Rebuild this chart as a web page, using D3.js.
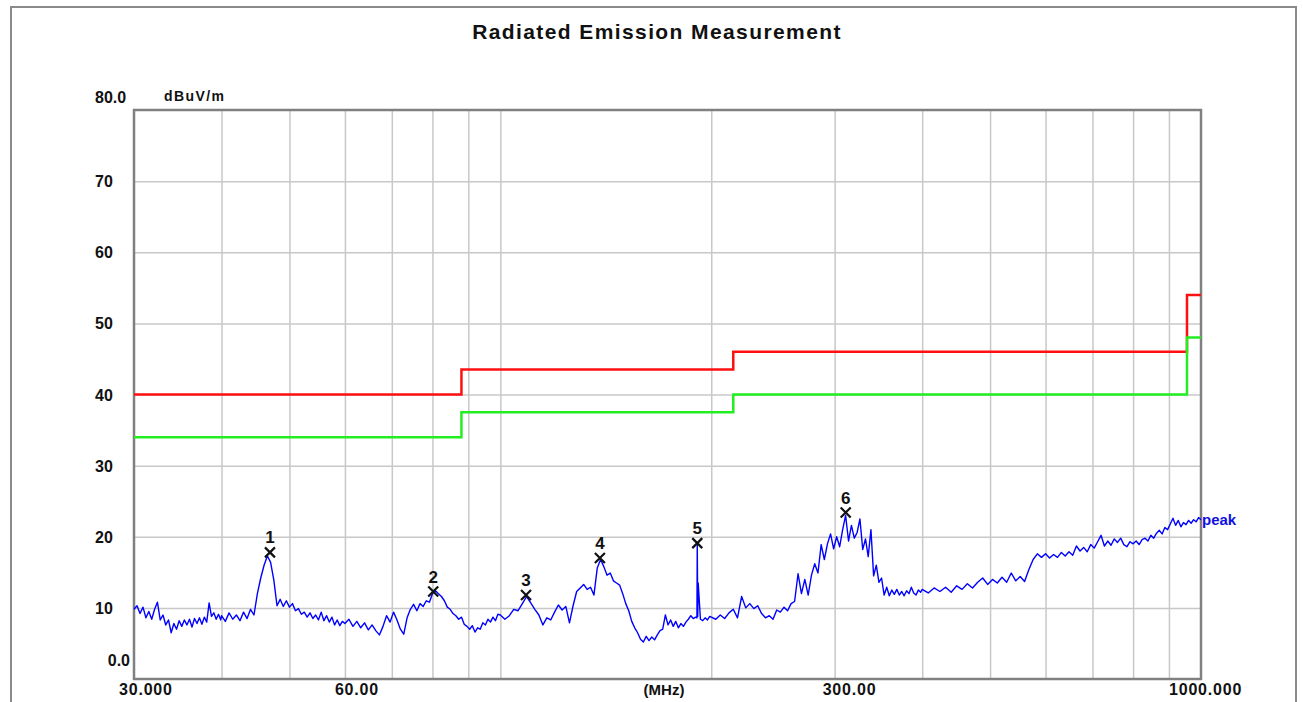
<!DOCTYPE html>
<html><head><meta charset="utf-8">
<script src="https://cdn.jsdelivr.net/npm/d3@7"></script>
<style>
body{margin:0;background:#fff;}
svg{display:block;}
text{font-family:"Liberation Sans",Arial,sans-serif;font-weight:bold;}
</style>
</head><body>
<svg id="c" width="1303" height="702"></svg>
<script>
// ---------- data ----------
const traceFreq = [
  30.0,30.3,30.6,30.9,31.2,31.5,31.8,32.1,32.4,32.7,33.0,33.3,33.6,33.9,34.2,34.5,34.8,35.1,35.4,35.7,
  36.0,36.3,36.6,36.9,37.2,37.5,37.8,38.1,38.4,38.7,39.0,39.3,39.6,39.9,
  40.0,40.5,41.0,41.5,42.0,42.5,43.0,43.5,44.0,44.5,
  45.0,45.5,46.0,46.5,47.0,47.5,48.0,48.5,49.0,49.5,
  50.0,50.5,51.0,51.5,52.0,52.5,53.0,53.5,54.0,54.5,
  55.0,55.5,56.0,56.5,57.0,57.5,58.0,58.5,59.0,59.5,
  60.0,60.8,61.6,62.4,63.2,64.0,64.8,65.6,66.4,67.2,
  68.0,68.8,69.6,70.4,71.2,72.0,72.8,73.6,74.4,75.2,
  76.0,76.8,77.6,78.4,79.2,80.0,80.8,81.6,82.4,83.2,
  84.0,84.8,85.6,86.4,87.2,88.0,88.8,89.6,90.4,91.2,
  92.0,92.8,93.6,94.4,95.2,96.0,96.8,97.6,98.4,99.2,
  100.0,101.5,103.0,104.5,106.0,107.5,109.0,110.5,112.0,113.5,
  115.0,116.5,118.0,119.5,121.0,122.5,124.0,125.5,127.0,128.5,
  130.0,131.5,133.0,134.5,136.0,137.5,139.0,140.5,142.0,143.5,
  145.0,146.5,148.0,149.5,151.0,152.5,154.0,155.5,157.0,158.5,
  160.0,161.5,163.0,164.5,166.0,167.5,169.0,170.5,172.0,173.5,
  175.0,176.5,178.0,179.5,181.0,182.5,184.0,185.5,187.0,188.5,
  190.0,190.8,191.0,191.3,191.6,193.0,194.5,196.0,197.5,199.0,
  200,203,206,209,212,215,218,221,224,227,
  230,233,236,239,242,245,248,251,254,257,
  260,263,266,269,272,275,278,281,284,287,
  290,293,296,299,302,305,308,311,314,317,
  320,323,326,329,332,335,338,341,344,347,
  350,353,356,359,362,365,368,371,374,377,
  380,383,386,389,392,395,398,
  400,408,416,424,432,440,448,456,464,472,
  480,488,496,504,512,520,528,536,544,552,
  560,568,576,584,592,600,608,616,624,632,
  640,648,656,664,672,680,688,696,704,712,
  720,728,736,744,752,760,768,776,784,792,
  800,808,816,824,832,840,848,856,864,872,
  880,888,896,904,912,920,928,936,944,952,
  960,968,976,984,992,1000
];
const traceLevel = [
  9.8,10.3,9.2,10.1,8.6,9.5,8.4,9.8,10.8,8.3,9.0,7.6,8.3,6.5,7.8,7.0,8.2,7.4,8.3,7.6,
  8.4,7.3,8.5,7.8,8.6,7.7,8.7,8.0,10.7,8.8,9.3,8.4,9.1,8.3,
  8.9,8.1,9.3,8.4,9.0,8.2,9.4,8.5,9.8,9.0,
  12.0,14.2,16.0,17.3,16.4,13.9,10.3,11.2,10.2,11.0,
  10.1,10.6,9.6,9.9,9.1,9.4,8.7,9.3,8.5,9.0,
  8.3,9.4,8.2,8.9,8.0,8.7,7.6,8.3,7.5,8.1,
  7.8,8.4,7.4,8.1,7.2,7.9,6.9,7.6,6.8,6.2,
  7.4,8.9,8.0,9.4,8.3,7.0,6.3,8.6,9.8,10.5,
  9.6,10.6,10.2,11.0,10.8,12.0,12.4,12.0,11.6,11.0,
  10.1,9.8,9.2,8.9,8.4,8.7,7.7,7.4,7.0,7.5,
  6.6,7.2,7.0,7.9,7.6,8.4,8.0,8.7,8.2,9.1,
  9.0,8.4,8.9,9.8,9.6,10.6,11.6,10.7,9.8,9.0,
  7.6,8.6,8.3,9.4,10.4,9.7,10.2,7.9,10.3,12.3,
  12.8,13.3,12.6,12.9,11.8,15.6,16.8,15.8,14.6,14.9,
  13.8,13.5,13.2,12.0,10.6,9.6,8.1,7.2,6.5,5.6,
  5.2,6.0,5.4,5.9,5.5,6.2,6.8,7.0,9.0,7.6,
  8.3,7.4,8.1,7.2,7.8,7.4,8.0,8.4,8.9,8.5,
  8.7,8.6,19.0,8.8,13.5,8.4,8.2,8.6,8.3,8.8,
  8.7,8.4,9.0,8.5,9.3,9.8,8.6,11.6,10.0,10.6,
  9.9,10.3,9.2,8.6,8.9,8.4,9.7,9.4,10.1,9.6,
  10.6,10.9,14.8,12.0,14.0,11.8,14.6,16.2,14.9,18.9,
  16.8,19.0,20.4,18.3,20.0,18.6,21.0,23.0,19.4,21.6,
  19.8,20.6,22.5,18.2,19.7,17.2,21.0,14.5,16.0,13.6,
  14.2,11.8,12.9,11.7,12.5,11.9,12.6,11.8,12.3,11.7,
  12.4,12.0,12.9,12.1,11.8,12.5,12.2,
  12.6,12.1,12.8,12.3,12.9,12.2,13.1,12.6,13.4,12.8,
  13.6,14.2,13.3,14.0,13.5,14.3,13.6,14.9,13.8,14.4,
  13.7,15.4,16.8,17.6,17.1,17.6,17.0,17.5,17.1,17.8,
  17.3,17.9,17.4,18.7,18.0,18.5,17.9,18.9,18.4,19.3,
  20.2,18.7,19.4,18.8,19.7,19.2,19.8,18.9,18.6,19.3,
  19.0,19.4,18.9,19.6,19.8,19.4,20.2,19.8,20.5,20.9,
  20.4,21.3,21.0,21.8,22.6,21.6,22.3,21.4,22.0,21.7,
  22.3,21.9,22.4,22.1,22.7,22.4
];
const limitEdges = [30, 88, 215, 955, 1000];
const redLimit   = [40, 43.5, 46, 54];
const greenLimit = [34, 37.5, 40, 48];
const markerFreq  = [46.9, 80.2, 108.8, 138.7, 191.0, 311.1];
const markerLevel = [17.8, 12.3, 11.8, 17.0, 19.1, 23.4];
const markerLabel = ["1","2","3","4","5","6"];
const xGrid = [40,50,60,70,80,90,100,200,300,400,500,600,700,800,900];
const yGrid = [10,20,30,40,50,60,70];
const yTickValues = [80,70,60,50,40,30,20,10,0];
const yTickText   = ["80.0","70","60","50","40","30","20","10","0.0"];
const xTickValues = [30,60,300,1000];
const xTickText   = ["30.000","60.00","300.00","1000.000"];

// ---------- layout ----------
const L=134, R=1201, T=110, B=679;
const svg = d3.select("#c");
const x = d3.scaleLog().domain([30,1000]).range([L,R]);
const y = d3.scaleLinear().domain([0,80]).range([B,T]);

svg.append("rect").attr("width",1303).attr("height",702).attr("fill","#fff");
// outer frame
svg.append("rect").attr("x",11).attr("y",7).attr("width",1285).attr("height",705)
  .attr("fill","none").attr("stroke","#8a8a8a").attr("stroke-width",2);

// grid via axes
const gx = svg.append("g").attr("transform",`translate(0,${B})`)
  .call(d3.axisBottom(x).tickValues(xGrid).tickSize(-(B-T)).tickFormat(""));
gx.select(".domain").remove();
gx.selectAll("line").attr("stroke","#c8c8c8").attr("stroke-width",1.5);
const gy = svg.append("g").attr("transform",`translate(${L},0)`)
  .call(d3.axisLeft(y).tickValues(yGrid).tickSize(-(R-L)).tickFormat(""));
gy.select(".domain").remove();
gy.selectAll("line").attr("stroke","#c8c8c8").attr("stroke-width",1.5);

// plot border
svg.append("rect").attr("x",L).attr("y",T).attr("width",R-L).attr("height",B-T)
  .attr("fill","none").attr("stroke","#808080").attr("stroke-width",2.5);

// limit lines
const stepLine = d3.line().x(d=>x(d[0])).y(d=>y(d[1])).curve(d3.curveStepAfter);
function limitPts(levels){
  return limitEdges.map((f,i)=>[f, levels[Math.min(i, levels.length-1)]]);
}
svg.append("path").attr("d",stepLine(limitPts(redLimit)))
  .attr("fill","none").attr("stroke","#ff1010").attr("stroke-width",2.5);
svg.append("path").attr("d",stepLine(limitPts(greenLimit)))
  .attr("fill","none").attr("stroke","#22ee22").attr("stroke-width",2.5);

// trace
const tracePts = d3.zip(traceFreq, traceLevel);
svg.append("path").attr("d", d3.line().x(d=>x(d[0])).y(d=>y(d[1]))(tracePts))
  .attr("fill","none").attr("stroke","#0000ff").attr("stroke-width",1.4)
  .attr("stroke-linejoin","round");

// markers
const mk = svg.append("g");
markerFreq.forEach((f,i)=>{
  const cx = x(f), cy = y(markerLevel[i]);
  mk.append("path").attr("d",`M${cx-5},${cy-5}L${cx+5},${cy+5}M${cx+5},${cy-5}L${cx-5},${cy+5}`)
    .attr("stroke","#111").attr("stroke-width",2.2).attr("fill","none");
  mk.append("text").attr("x",cx).attr("y",cy-9).attr("text-anchor","middle")
    .attr("font-size",17).attr("fill","#111").text(markerLabel[i]);
});

// peak label
svg.append("text").attr("x",R+1).attr("y",y(traceLevel[traceLevel.length-1])+5)
  .attr("font-size",15).attr("fill","#1010e0").text("peak");

// title
svg.append("text").attr("x",657).attr("y",39).attr("text-anchor","middle")
  .attr("font-size",21).attr("letter-spacing",1.4).attr("fill","#111").text("Radiated Emission Measurement");

// y unit
svg.append("text").attr("x",164).attr("y",101).attr("font-size",14)
  .attr("letter-spacing",1.4).attr("fill","#111").text("dBuV/m");

// y tick labels
yTickValues.forEach((v,i)=>{
  const t = yTickText[i];
  let yy = y(v) + 6, xx = 95, anchor = "start";
  if (v===80){ yy = y(v) - 7; }
  if (v===0){ yy = y(v) - 13; xx = 130; anchor = "end"; }
  svg.append("text").attr("x",xx).attr("y",yy).attr("text-anchor",anchor)
    .attr("font-size",16).attr("fill","#111").text(t);
});

// x tick labels
const xOff = [-15,-10,-12,-32];
xTickValues.forEach((v,i)=>{
  svg.append("text").attr("x",x(v)+xOff[i]).attr("y",695)
    .attr("font-size",16).attr("letter-spacing",0.8).attr("fill","#111").text(xTickText[i]);
});
svg.append("text").attr("x",664).attr("y",695).attr("text-anchor","middle")
  .attr("font-size",15).attr("fill","#111").text("(MHz)");
</script>
</body></html>
